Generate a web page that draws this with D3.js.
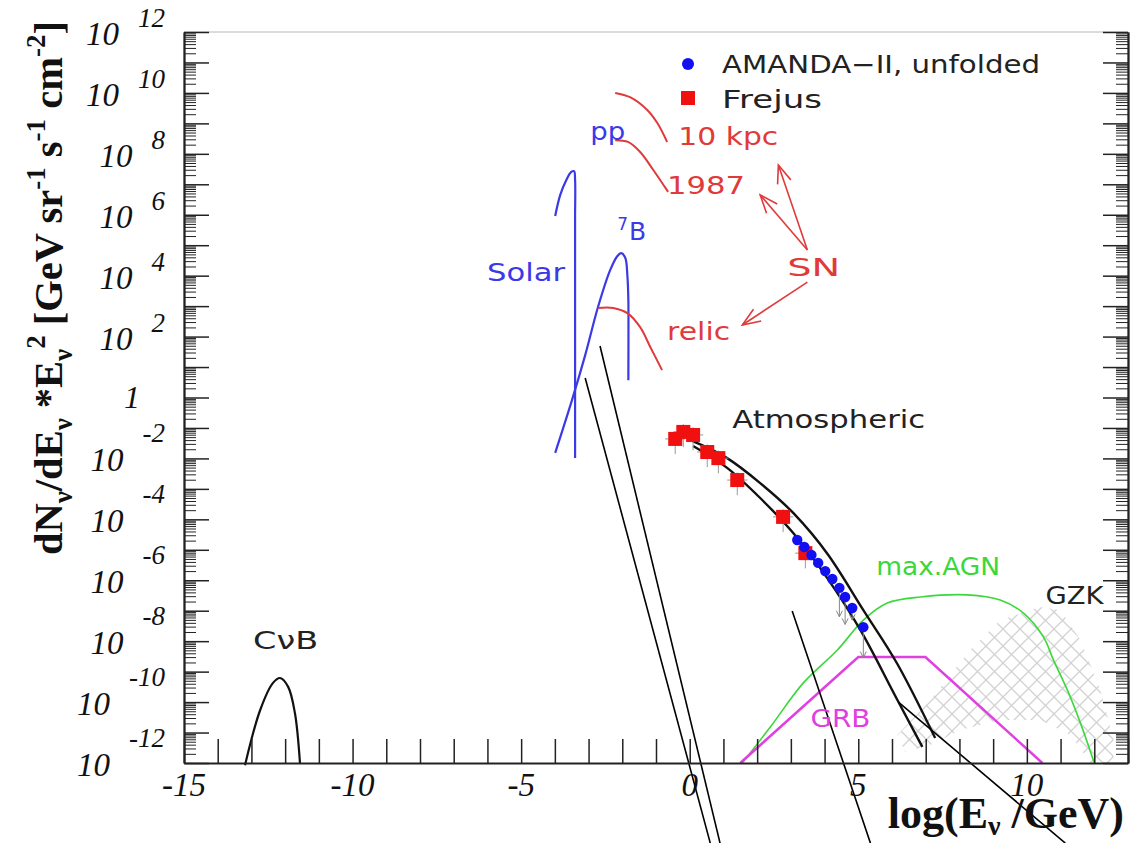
<!DOCTYPE html>
<html>
<head>
<meta charset="utf-8">
<style>
body { margin: 0; background: #fff; }
svg { display: block; }
.ann { font-family: "DejaVu Sans", sans-serif; font-size: 25px; }
</style>
</head>
<body>
<script src="https://d3js.org/d3.v7.min.js"></script>
<script>
// values: x = log10(E/GeV), y = log10(flux)
var xTickVals = [-15, -10, -5, 0, 5, 10];
var yLabelExps = [-12, -10, -8, -6, -4, -2, 0, 2, 4, 6, 8, 10, 12];

var cnb = [[-13.19,-12.07],[-12.74,-10.26],[-12.36,-9.37],[-12.15,-9.21],[-11.91,-9.50],[-11.71,-10.36],[-11.56,-12.0]];
var solarPP = [[-3.99,5.96],[-3.84,6.65],[-3.66,7.14],[-3.52,7.40],[-3.43,7.43],[-3.40,7.14],[-3.40,5.83],[-3.40,-1.99]];
var solarB7 = [[-3.99,-1.82],[-3.49,-0.08],[-3.10,1.39],[-2.72,2.97],[-2.36,4.18],[-2.15,4.64],[-2.03,4.74],[-1.91,4.58],[-1.85,4.02],[-1.82,3.20],[-1.82,0.57]];
var sn10kpc = [[-2.21,10.0],[-1.77,9.86],[-1.26,9.44],[-0.96,9.01],[-0.67,8.39]];
var sn1987 = [[-2.21,8.45],[-1.83,8.39],[-1.47,8.06],[-1.08,7.47],[-0.64,6.75]];
var snRelic = [[-2.71,2.94],[-2.27,2.94],[-1.85,2.77],[-1.47,2.31],[-1.17,1.66],[-0.82,0.90]];
var atmoUpper = [[0.02,-1.40],[1.11,-1.99],[2.09,-2.81],[3.07,-3.79],[4.11,-5.17],[5.15,-6.98],[6.16,-8.75],[7.28,-11.18]];
var atmoLower = [[0.10,-1.59],[1.11,-2.31],[2.09,-3.30],[3.07,-4.45],[4.08,-5.93],[5.06,-7.63],[6.16,-9.93],[6.90,-11.47]];
var frejusX = [-0.43, -0.19, 0.10, 0.52, 0.85, 1.41, 2.77, 3.43];
var frejusY = [-1.36, -1.13, -1.23, -1.79, -1.99, -2.71, -3.92, -5.11];
var amandaX = [3.19, 3.40, 3.61, 3.81, 4.02, 4.23, 4.44, 4.61, 4.82, 5.15];
var amandaY = [-4.68, -4.91, -5.17, -5.43, -5.70, -5.96, -6.25, -6.55, -6.91, -7.54];
var amandaErrLo = [0.1, 0.1, 0.1, 0.1, 0.15, 0.2, 0.95, 0.9, 0.4, 1.0];
var maxAGN = [[1.56,-12.0],[2.39,-10.82],[3.37,-9.37],[4.38,-8.29],[5.15,-7.31],[5.86,-6.75],[6.84,-6.55],[8.23,-6.48],[9.21,-6.65],[9.90,-7.08],[10.49,-7.86],[10.79,-8.62],[11.20,-9.60],[11.59,-10.69],[12.0,-12.0]];
var grb = [[1.50,-12.0],[5.0,-8.52],[6.99,-8.52],[10.46,-12.0]];
var gzk = [[6.16,-11.08],[7.14,-9.93],[8.32,-8.29],[9.21,-7.31],[10.40,-6.88],[11.0,-6.98],[11.59,-7.96],[12.18,-9.60],[12.57,-11.24],[12.57,-12.0],[11.88,-12.0],[11.29,-11.08],[10.40,-10.59],[9.21,-10.59],[8.03,-10.92],[7.14,-11.41],[6.39,-11.64]];
var snArrows = [[[3.49,4.84],[2.63,7.63]], [[3.49,4.84],[2.09,6.65]], [[3.49,3.79],[1.56,2.38]]];
var strayLines = [[[-3.10,0.64],[0.61,-14.63]], [[-2.66,1.69],[0.90,-14.63]], [[3.04,-7.01],[5.36,-14.63]], [[6.19,-10.0],[11.14,-14.63]]];

var labels = [
  {t: "pp", x: -2.95, y: 8.45, c: "#3a3ae6", w: 35},
  {t: "Solar", x: -6.01, y: 3.82, c: "#3a3ae6", w: 78},
  {t: "10 kpc", x: -0.34, y: 8.29, c: "#e03a3a", w: 100},
  {t: "1987", x: -0.67, y: 6.68, c: "#e03a3a", w: 78},
  {t: "SN", x: 2.89, y: 3.99, c: "#e03a3a", w: 53},
  {t: "relic", x: -0.67, y: 1.89, c: "#e03a3a", w: 63},
  {t: "Atmospheric", x: 1.26, y: -1.0, c: "#222", w: 193},
  {t: "max.AGN", x: 5.53, y: -5.83, c: "#3ad83a", w: 124},
  {t: "GZK", x: 10.55, y: -6.78, c: "#222", w: 58},
  {t: "GRB", x: 3.58, y: -10.82, c: "#e040e0", w: 60},
  {t: "C\u03bdB", x: -12.95, y: -8.26, c: "#222", w: 65}
];

var width = 1130, height = 843;

var x = d3.scaleLinear().domain([-15, 13]).range([184, 1128]);
var y = d3.scaleLog().domain([1e-12, 1e12]).range([763, 32]);
function px(d) { return x(d[0]); }
function py(d) { return y(Math.pow(10, d[1])); }

var smooth = d3.line().x(px).y(py).curve(d3.curveCatmullRom.alpha(0.5));
var mono = d3.line().x(px).y(py).curve(d3.curveMonotoneX);
var straight = d3.line().x(px).y(py);

var svg = d3.select("body").append("svg")
  .attr("width", width)
  .attr("height", height);

var defs = svg.append("defs");
var pat = defs.append("pattern")
  .attr("id", "hatch")
  .attr("patternUnits", "userSpaceOnUse")
  .attr("width", 17).attr("height", 17);
pat.append("path")
  .attr("d", "M0,0 L17,17 M17,0 L0,17")
  .attr("stroke", "#d2d2d2")
  .attr("stroke-width", 1.3);

defs.append("marker")
  .attr("id", "openArrow")
  .attr("markerUnits", "userSpaceOnUse")
  .attr("viewBox", "-20 -10 22 20")
  .attr("refX", 0).attr("refY", 0)
  .attr("markerWidth", 22).attr("markerHeight", 20)
  .attr("orient", "auto")
  .append("path")
  .attr("d", "M-18,-7 L0,0 L-18,7")
  .attr("fill", "none")
  .attr("stroke", "#e03a3a")
  .attr("stroke-width", 1.6);

defs.append("marker")
  .attr("id", "grayArrow")
  .attr("markerUnits", "userSpaceOnUse")
  .attr("viewBox", "-8 -5 10 10")
  .attr("refX", 0).attr("refY", 0)
  .attr("markerWidth", 10).attr("markerHeight", 10)
  .attr("orient", "auto")
  .append("path")
  .attr("d", "M-6,-3 L0,0 L-6,3")
  .attr("fill", "none")
  .attr("stroke", "#888")
  .attr("stroke-width", 1);

// GZK hatched band
svg.append("path")
  .attr("d", straight(gzk) + "Z")
  .attr("fill", "url(#hatch)")
  .attr("stroke", "none");

// model curves
function curve(data, colour, w, gen) {
  svg.append("path")
    .attr("d", (gen || smooth)(data))
    .attr("fill", "none")
    .attr("stroke", colour)
    .attr("stroke-width", w);
}
curve(cnb, "#111", 2.2);
curve(solarPP, "#3a3ae6", 2.2);
curve(solarB7, "#3a3ae6", 2.2);
curve(sn10kpc, "#e03a3a", 2);
curve(sn1987, "#e03a3a", 2);
curve(snRelic, "#e03a3a", 2);
curve(maxAGN, "#3ad83a", 1.6);
curve(grb, "#e040e0", 2.5, straight);
curve(atmoUpper, "#111", 2.4, mono);
curve(atmoLower, "#111", 2.4, mono);

// SN arrows
svg.selectAll(".snArrow")
  .data(snArrows)
  .enter().append("path")
  .attr("class", "snArrow")
  .attr("d", function(d) { return straight(d); })
  .attr("fill", "none")
  .attr("stroke", "#e03a3a")
  .attr("stroke-width", 1.6)
  .attr("marker-end", "url(#openArrow)");

// Frejus points with error crosses
var frejus = frejusX.map(function(v, i) { return [v, frejusY[i]]; });
var fg = svg.append("g");
fg.selectAll(".fex").data(frejus).enter().append("line")
  .attr("x1", function(d) { return x(d[0] - 0.3); })
  .attr("x2", function(d) { return x(d[0] + 0.3); })
  .attr("y1", py).attr("y2", py)
  .attr("stroke", "#999").attr("stroke-width", 1);
fg.selectAll(".fey").data(frejus).enter().append("line")
  .attr("x1", px).attr("x2", px)
  .attr("y1", function(d) { return y(Math.pow(10, d[1] + 0.25)); })
  .attr("y2", function(d) { return y(Math.pow(10, d[1] - 0.5)); })
  .attr("stroke", "#999").attr("stroke-width", 1);
fg.selectAll(".fr").data(frejus).enter().append("rect")
  .attr("x", function(d) { return px(d) - 7; })
  .attr("y", function(d) { return py(d) - 7; })
  .attr("width", 14).attr("height", 14)
  .attr("fill", "#f01010");

// AMANDA-II unfolded
var amanda = amandaX.map(function(v, i) { return [v, amandaY[i], amandaErrLo[i]]; });
var ag = svg.append("g");
ag.selectAll(".aerr").data(amanda.filter(function(d) { return d[2] > 0.3; })).enter().append("line")
  .attr("x1", px).attr("x2", px)
  .attr("y1", py)
  .attr("y2", function(d) { return y(Math.pow(10, d[1] - d[2])); })
  .attr("stroke", "#888").attr("stroke-width", 1)
  .attr("marker-end", "url(#grayArrow)");
ag.selectAll(".am").data(amanda).enter().append("circle")
  .attr("cx", px).attr("cy", py)
  .attr("r", 5.2)
  .attr("fill", "#1010f0");

// stray pointer lines
svg.selectAll(".stray")
  .data(strayLines)
  .enter().append("path")
  .attr("d", function(d) { return straight(d); })
  .attr("fill", "none")
  .attr("stroke", "#000")
  .attr("stroke-width", 1.6);

// annotation labels
svg.selectAll(".lab")
  .data(labels)
  .enter().append("text")
  .attr("class", "ann")
  .attr("x", function(d) { return x(d.x); })
  .attr("y", function(d) { return y(Math.pow(10, d.y)); })
  .attr("fill", function(d) { return d.c; })
  .attr("textLength", function(d) { return d.w; })
  .attr("lengthAdjust", "spacingAndGlyphs")
  .text(function(d) { return d.t; });

// 7B label
var b7 = svg.append("text")
  .attr("class", "ann")
  .attr("x", x(-2.15))
  .attr("y", y(Math.pow(10, 5.17)))
  .attr("fill", "#3a3ae6");
b7.append("tspan").attr("font-size", 17).attr("dy", -10).text("7");
b7.append("tspan").attr("dy", 10).attr("dx", 1).text("B");

// legend
var leg = svg.append("g");
leg.append("circle").attr("cx", 688).attr("cy", 64).attr("r", 6).attr("fill", "#1010f0");
leg.append("rect").attr("x", 681).attr("y", 91).attr("width", 14).attr("height", 14).attr("fill", "#f01010");
leg.append("text").attr("class", "ann").attr("x", 722).attr("y", 73)
  .attr("fill", "#222").attr("textLength", 318).attr("lengthAdjust", "spacingAndGlyphs")
  .text("AMANDA\u2212II, unfolded");
leg.append("text").attr("class", "ann").attr("x", 722).attr("y", 108)
  .attr("fill", "#222").attr("textLength", 100).attr("lengthAdjust", "spacingAndGlyphs")
  .text("Frejus");

// frame and ticks
var majorY = d3.range(-12, 13).map(function(e) { return Math.pow(10, e); });
var minorY = [];
d3.range(-12, 12).forEach(function(e) {
  for (var m = 2; m <= 9; m++) minorY.push(m * Math.pow(10, e));
});

svg.append("line").attr("x1", 184).attr("x2", 1128).attr("y1", 32).attr("y2", 32)
  .attr("stroke", "#cfcfcf").attr("stroke-width", 1.5);

function styleAxis(g, w) {
  g.selectAll("line").attr("stroke", "#222").attr("stroke-width", w);
  g.select(".domain").attr("stroke", "#222").attr("stroke-width", 1.8);
}

styleAxis(svg.append("g").attr("transform", "translate(184,0)")
  .call(d3.axisLeft(y).tickValues(minorY).tickSize(-12).tickSizeOuter(0).tickFormat("")), 1);
styleAxis(svg.append("g").attr("transform", "translate(184,0)")
  .call(d3.axisLeft(y).tickValues(majorY).tickSize(-25).tickSizeOuter(0).tickFormat("")), 1.5);
styleAxis(svg.append("g").attr("transform", "translate(1128,0)")
  .call(d3.axisRight(y).tickValues(minorY).tickSize(-12).tickSizeOuter(0).tickFormat("")), 1);
styleAxis(svg.append("g").attr("transform", "translate(1128,0)")
  .call(d3.axisRight(y).tickValues(majorY).tickSize(-25).tickSizeOuter(0).tickFormat("")), 1.5);
styleAxis(svg.append("g").attr("transform", "translate(0,763)")
  .call(d3.axisBottom(x).tickValues(d3.range(-15, 14)).tickSize(-24).tickSizeOuter(0).tickFormat("")), 1.5);

// x tick labels
svg.selectAll(".xlab")
  .data(xTickVals)
  .enter().append("text")
  .attr("x", function(d) { return x(d); })
  .attr("y", 796)
  .attr("text-anchor", "middle")
  .attr("font-family", "Liberation Serif, serif")
  .attr("font-style", "italic")
  .attr("font-size", 33)
  .attr("fill", "#111")
  .text(function(d) { return d; });

// y tick labels (10 with exponent)
yLabelExps.forEach(function(e) {
  var ty = y(Math.pow(10, e));
  if (e === 0) {
    svg.append("text").attr("x", 140).attr("y", ty + 10)
      .attr("text-anchor", "end")
      .attr("font-family", "Liberation Serif, serif").attr("font-style", "italic")
      .attr("font-size", 32).attr("fill", "#111").text("1");
    return;
  }
  var ex = svg.append("text")
    .attr("x", 165).attr("y", e > 0 ? ty - 5 : ty - 16)
    .attr("text-anchor", "end")
    .attr("font-family", "Liberation Serif, serif").attr("font-style", "italic")
    .attr("font-size", 27).attr("fill", "#111")
    .text(e);
  var ew = ex.node().getComputedTextLength();
  svg.append("text")
    .attr("x", 165 - ew - 19).attr("y", ty + 13)
    .attr("text-anchor", "end")
    .attr("font-family", "Liberation Serif, serif").attr("font-style", "italic")
    .attr("font-size", 33).attr("fill", "#111")
    .text("10");
});

// axis titles
var xt = svg.append("text")
  .attr("x", 1124).attr("y", 828)
  .attr("text-anchor", "end")
  .attr("font-family", "Liberation Serif, serif").attr("font-weight", "bold")
  .attr("font-size", 44).attr("fill", "#111");
xt.append("tspan").text("log(E");
xt.append("tspan").attr("font-size", 28).attr("dy", 7).text("\u03bd");
xt.append("tspan").attr("dy", -7).text(" /GeV)");

var yt = svg.append("text")
  .attr("transform", "translate(62,555) rotate(-90)")
  .attr("font-family", "Liberation Serif, serif").attr("font-weight", "bold")
  .attr("font-size", 40.5).attr("fill", "#111");
var parts = [
  ["dN", 0], ["\u03bd", 1], ["/dE", 0], ["\u03bd", 1], [" *E", 0], ["\u03bd", 1], ["2", 2],
  [" [GeV sr", 0], ["-1", 2], [" s", 0], ["-1", 2], [" cm", 0], ["-2", 2], ["]", 0]
];
var level = 0;
parts.forEach(function(p) {
  var target = p[1] === 1 ? 10 : (p[1] === 2 ? -17 : 0);
  var ts = yt.append("tspan").attr("dy", target - level).text(p[0]);
  if (p[1] > 0) ts.attr("font-size", 27);
  level = target;
});
</script>
</body>
</html>
